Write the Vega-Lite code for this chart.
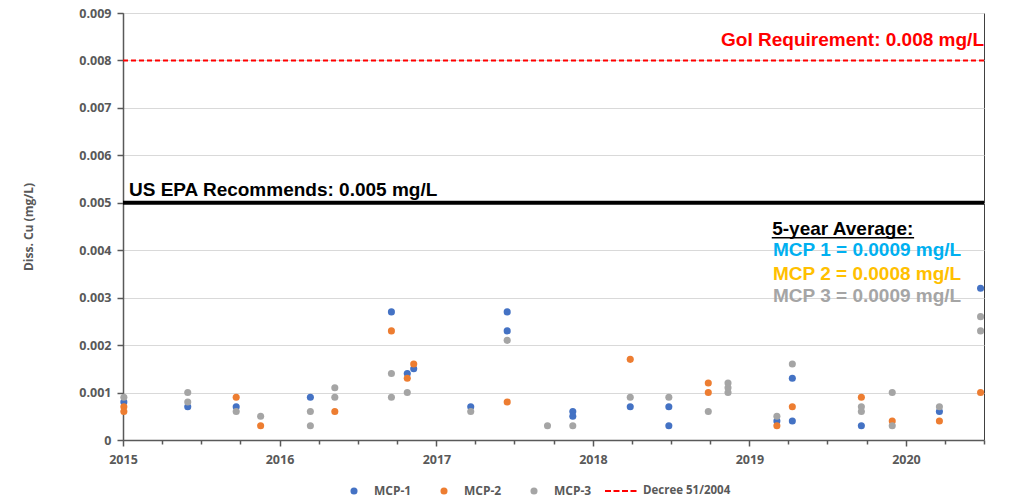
{
  "$schema": "https://vega.github.io/schema/vega-lite/v6.json",
  "width": 861,
  "height": 427,
  "autosize": {"type": "none"},
  "padding": {"left": 123, "top": 13, "right": 26, "bottom": 62},
  "background": "white",
  "config": {
    "view": {"stroke": "#404040", "strokeWidth": 1},
    "font": "Open Sans"
  },
  "datasets": {
    "samples": [
      {"series": "MCP-1", "date": "2015-01-03", "value": 0.0008},
      {"series": "MCP-1", "date": "2015-06-01", "value": 0.0007},
      {"series": "MCP-1", "date": "2015-09-22", "value": 0.0007},
      {"series": "MCP-1", "date": "2016-03-13", "value": 0.0009},
      {"series": "MCP-1", "date": "2016-09-18", "value": 0.0027},
      {"series": "MCP-1", "date": "2016-10-25", "value": 0.0014},
      {"series": "MCP-1", "date": "2016-11-09", "value": 0.0015},
      {"series": "MCP-1", "date": "2017-03-22", "value": 0.0007},
      {"series": "MCP-1", "date": "2017-06-15", "value": 0.0027},
      {"series": "MCP-1", "date": "2017-06-15", "value": 0.0023},
      {"series": "MCP-1", "date": "2017-11-15", "value": 0.0006},
      {"series": "MCP-1", "date": "2017-11-15", "value": 0.0005},
      {"series": "MCP-1", "date": "2018-03-29", "value": 0.0007},
      {"series": "MCP-1", "date": "2018-06-27", "value": 0.0007},
      {"series": "MCP-1", "date": "2018-06-27", "value": 0.0003},
      {"series": "MCP-1", "date": "2019-03-06", "value": 0.0004},
      {"series": "MCP-1", "date": "2019-04-11", "value": 0.0013},
      {"series": "MCP-1", "date": "2019-04-11", "value": 0.0004},
      {"series": "MCP-1", "date": "2019-09-19", "value": 0.0003},
      {"series": "MCP-1", "date": "2020-03-19", "value": 0.0006},
      {"series": "MCP-1", "date": "2020-06-23", "value": 0.0032},
      {"series": "MCP-2", "date": "2015-01-03", "value": 0.0007},
      {"series": "MCP-2", "date": "2015-01-03", "value": 0.0006},
      {"series": "MCP-2", "date": "2015-09-22", "value": 0.0009},
      {"series": "MCP-2", "date": "2015-11-18", "value": 0.0003},
      {"series": "MCP-2", "date": "2016-05-09", "value": 0.0006},
      {"series": "MCP-2", "date": "2016-09-18", "value": 0.0023},
      {"series": "MCP-2", "date": "2016-10-25", "value": 0.0013},
      {"series": "MCP-2", "date": "2016-11-09", "value": 0.0016},
      {"series": "MCP-2", "date": "2017-06-15", "value": 0.0008},
      {"series": "MCP-2", "date": "2018-03-29", "value": 0.0017},
      {"series": "MCP-2", "date": "2018-09-27", "value": 0.0012},
      {"series": "MCP-2", "date": "2018-09-27", "value": 0.001},
      {"series": "MCP-2", "date": "2019-03-06", "value": 0.0003},
      {"series": "MCP-2", "date": "2019-04-11", "value": 0.0007},
      {"series": "MCP-2", "date": "2019-09-19", "value": 0.0009},
      {"series": "MCP-2", "date": "2019-11-30", "value": 0.0004},
      {"series": "MCP-2", "date": "2020-03-19", "value": 0.0004},
      {"series": "MCP-2", "date": "2020-06-23", "value": 0.001},
      {"series": "MCP-3", "date": "2015-01-03", "value": 0.0009},
      {"series": "MCP-3", "date": "2015-06-01", "value": 0.001},
      {"series": "MCP-3", "date": "2015-06-01", "value": 0.0008},
      {"series": "MCP-3", "date": "2015-09-22", "value": 0.0006},
      {"series": "MCP-3", "date": "2015-11-18", "value": 0.0005},
      {"series": "MCP-3", "date": "2016-03-13", "value": 0.0006},
      {"series": "MCP-3", "date": "2016-03-13", "value": 0.0003},
      {"series": "MCP-3", "date": "2016-05-09", "value": 0.0011},
      {"series": "MCP-3", "date": "2016-05-09", "value": 0.0009},
      {"series": "MCP-3", "date": "2016-09-18", "value": 0.0014},
      {"series": "MCP-3", "date": "2016-09-18", "value": 0.0009},
      {"series": "MCP-3", "date": "2016-10-25", "value": 0.001},
      {"series": "MCP-3", "date": "2017-03-22", "value": 0.0006},
      {"series": "MCP-3", "date": "2017-06-15", "value": 0.0021},
      {"series": "MCP-3", "date": "2017-09-17", "value": 0.0003},
      {"series": "MCP-3", "date": "2017-11-15", "value": 0.0003},
      {"series": "MCP-3", "date": "2018-03-29", "value": 0.0009},
      {"series": "MCP-3", "date": "2018-06-27", "value": 0.0009},
      {"series": "MCP-3", "date": "2018-09-27", "value": 0.0006},
      {"series": "MCP-3", "date": "2018-11-12", "value": 0.0012},
      {"series": "MCP-3", "date": "2018-11-12", "value": 0.0011},
      {"series": "MCP-3", "date": "2018-11-12", "value": 0.001},
      {"series": "MCP-3", "date": "2019-03-06", "value": 0.0005},
      {"series": "MCP-3", "date": "2019-04-11", "value": 0.0016},
      {"series": "MCP-3", "date": "2019-09-19", "value": 0.0007},
      {"series": "MCP-3", "date": "2019-09-19", "value": 0.0006},
      {"series": "MCP-3", "date": "2019-11-30", "value": 0.001},
      {"series": "MCP-3", "date": "2019-11-30", "value": 0.0003},
      {"series": "MCP-3", "date": "2020-03-19", "value": 0.0007},
      {"series": "MCP-3", "date": "2020-06-23", "value": 0.0026},
      {"series": "MCP-3", "date": "2020-06-23", "value": 0.0023}
    ]
  },
  "layer": [
    {
      "data": {"values": [{}]},
      "mark": {"type": "rule", "color": "#000000", "strokeWidth": 4},
      "encoding": {"y": {"datum": 0.005, "type": "quantitative"}}
    },
    {
      "data": {"values": [{}]},
      "mark": {"type": "rule", "strokeWidth": 2, "strokeDash": [5, 3]},
      "encoding": {
        "y": {"datum": 0.008, "type": "quantitative"},
        "color": {
          "datum": "Decree 51/2004",
          "type": "nominal",
          "scale": {"range": ["#FF0000"]},
          "legend": {
            "orient": "none",
            "legendX": 481,
            "legendY": 460,
            "title": null,
            "symbolType": "stroke",
            "symbolSize": 1156,
            "symbolStrokeWidth": 2,
            "symbolDash": [6, 2.5],
            "labelOffset": 3,
            "labelFont": "Open Sans",
            "labelFontSize": 11.5,
            "labelFontWeight": "bold",
            "labelColor": "#595959"
          }
        }
      }
    },
    {
      "data": {"name": "samples"},
      "mark": {"type": "point", "filled": true, "opacity": 1, "size": 50},
      "encoding": {
        "x": {
          "field": "date",
          "type": "temporal",
          "scale": {
            "type": "utc",
            "domain": [
              {"year": 2015, "month": 1, "date": 1, "utc": true},
              {"year": 2020, "month": 7, "date": 1, "utc": true}
            ]
          },
          "axis": {
            "title": null,
            "grid": false,
            "tickCount": {"interval": "month", "step": 3},
            "labelExpr": "utcmonth(datum.value) == 0 ? utcFormat(datum.value, '%Y') : ''",
            "labelOverlap": false,
            "labelFlush": false,
            "tickSize": {"condition": {"test": "utcmonth(datum.value) == 0", "value": 6}, "value": 4},
            "tickColor": "#595959",
            "tickWidth": 1.5,
            "domainColor": "#595959",
            "domainWidth": 1.5,
            "labelFont": "Open Sans",
            "labelFontSize": 12.5,
            "labelFontWeight": "bold",
            "labelColor": "#595959",
            "labelPadding": 7
          }
        },
        "y": {
          "field": "value",
          "type": "quantitative",
          "scale": {"domain": [0, 0.009], "nice": false},
          "axis": {
            "title": "Diss. Cu (mg/L)",
            "values": [0, 0.001, 0.002, 0.003, 0.004, 0.005, 0.006, 0.007, 0.008, 0.009],
            "labelExpr": "datum.value == 0 ? '0' : format(datum.value, '.3f')",
            "grid": true,
            "gridColor": "#D9D9D9",
            "gridWidth": 1,
            "tickSize": 6,
            "tickColor": "#595959",
            "tickWidth": 1.5,
            "domainColor": "#595959",
            "domainWidth": 1.5,
            "labelFont": "Open Sans",
            "labelFontSize": 12.5,
            "labelFontWeight": "bold",
            "labelColor": "#595959",
            "labelPadding": 6,
            "titleFont": "Open Sans",
            "titleFontSize": 12,
            "titleFontWeight": "bold",
            "titleColor": "#595959",
            "titlePadding": 43
          }
        },
        "color": {
          "field": "series",
          "type": "nominal",
          "scale": {"domain": ["MCP-1", "MCP-2", "MCP-3"], "range": ["#4472C4", "#ED7D31", "#A5A5A5"]},
          "legend": {
            "orient": "none",
            "legendX": 225,
            "legendY": 472,
            "direction": "horizontal",
            "title": null,
            "symbolType": "circle",
            "symbolSize": 50,
            "columnPadding": 26,
            "labelOffset": 14,
            "labelFont": "Open Sans",
            "labelFontSize": 12,
            "labelFontWeight": "bold",
            "labelColor": "#595959"
          }
        }
      }
    },
    {
      "data": {"values": [{"t": "GoI Requirement: 0.008 mg/L"}]},
      "mark": {"type": "text", "align": "right", "baseline": "alphabetic", "font": "Liberation Sans", "fontWeight": "bold", "fontSize": 19, "color": "#FF0000"},
      "encoding": {
        "x": {"datum": {"year": 2020, "month": 7, "date": 1, "utc": true}, "type": "temporal"},
        "y": {"datum": 0.00831, "type": "quantitative"},
        "text": {"field": "t"}
      }
    },
    {
      "data": {"values": [{"t": "US EPA Recommends: 0.005 mg/L"}]},
      "mark": {"type": "text", "align": "left", "baseline": "alphabetic", "font": "Liberation Sans", "fontWeight": "bold", "fontSize": 19, "color": "#000000"},
      "encoding": {
        "x": {"datum": {"year": 2015, "month": 1, "date": 15, "utc": true}, "type": "temporal"},
        "y": {"datum": 0.005137, "type": "quantitative"},
        "text": {"field": "t"}
      }
    },
    {
      "data": {"values": [{"t": "5-year Average:"}]},
      "mark": {"type": "text", "align": "left", "baseline": "alphabetic", "font": "Liberation Sans", "fontWeight": "bold", "fontSize": 19, "color": "#000000"},
      "encoding": {
        "x": {"datum": {"year": 2019, "month": 2, "date": 23, "utc": true}, "type": "temporal"},
        "y": {"datum": 0.004316, "type": "quantitative"},
        "text": {"field": "t"}
      }
    },
    {
      "data": {"values": [{}]},
      "mark": {"type": "rule", "color": "#000000", "strokeWidth": 1.5},
      "encoding": {
        "x": {"datum": {"year": 2019, "month": 2, "date": 22, "utc": true}, "type": "temporal"},
        "x2": {"datum": {"year": 2020, "month": 1, "date": 20, "utc": true}},
        "y": {"datum": 0.004261, "type": "quantitative"}
      }
    },
    {
      "data": {"values": [{"t": "MCP 1 = 0.0009 mg/L"}]},
      "mark": {"type": "text", "align": "left", "baseline": "alphabetic", "font": "Liberation Sans", "fontWeight": "bold", "fontSize": 19, "color": "#00B0F0"},
      "encoding": {
        "x": {"datum": {"year": 2019, "month": 2, "date": 25, "utc": true}, "type": "temporal"},
        "y": {"datum": 0.003874, "type": "quantitative"},
        "text": {"field": "t"}
      }
    },
    {
      "data": {"values": [{"t": "MCP 2 = 0.0008 mg/L"}]},
      "mark": {"type": "text", "align": "left", "baseline": "alphabetic", "font": "Liberation Sans", "fontWeight": "bold", "fontSize": 19, "color": "#FFC000"},
      "encoding": {
        "x": {"datum": {"year": 2019, "month": 2, "date": 25, "utc": true}, "type": "temporal"},
        "y": {"datum": 0.003369, "type": "quantitative"},
        "text": {"field": "t"}
      }
    },
    {
      "data": {"values": [{"t": "MCP 3 = 0.0009 mg/L"}]},
      "mark": {"type": "text", "align": "left", "baseline": "alphabetic", "font": "Liberation Sans", "fontWeight": "bold", "fontSize": 19, "color": "#A5A5A5"},
      "encoding": {
        "x": {"datum": {"year": 2019, "month": 2, "date": 25, "utc": true}, "type": "temporal"},
        "y": {"datum": 0.002914, "type": "quantitative"},
        "text": {"field": "t"}
      }
    }
  ],
  "resolve": {"scale": {"color": "independent"}}
}
